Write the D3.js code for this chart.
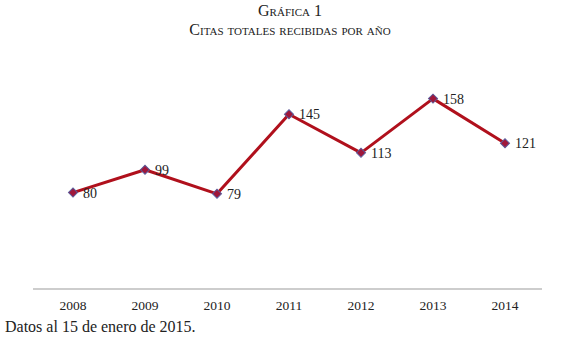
<!DOCTYPE html>
<html lang="es">
<head>
<meta charset="UTF-8">
<title>Gráfica 1</title>
<script src="https://d3js.org/d3.v7.min.js"></script>
<style>
  body { margin: 0; background: #fff; }
  text { font-family: "Liberation Serif", "DejaVu Serif", serif; fill: #222; }
  .title { font-variant: small-caps; font-size: 16px; }
  .tick text { font-size: 13.5px; }
  .lbl { font-size: 14px; }
  .note { font-size: 16px; }
</style>
</head>
<body>
<div id="chart"></div>
<script>
  const years = ["2008", "2009", "2010", "2011", "2012", "2013", "2014"];
  const citas = [80, 99, 79, 145, 113, 158, 121];

  const W = 580, H = 348;
  const svg = d3.select("#chart").append("svg")
      .attr("width", W).attr("height", H);

  // scales
  const x = d3.scaleBand().domain(years).range([37, 541]);
  const y = d3.scaleLinear().domain([0, 200]).range([289, 48]);

  // titles
  svg.append("text").attr("class", "title")
      .attr("x", 290).attr("y", 16).attr("text-anchor", "middle")
      .text("Gráfica 1");
  svg.append("text").attr("class", "title")
      .attr("x", 290).attr("y", 35).attr("text-anchor", "middle")
      .text("Citas totales recibidas por año");

  // x axis
  const xAxis = svg.append("g")
      .attr("transform", `translate(0,${y(0)})`)
      .call(d3.axisBottom(x).tickSize(0).tickPadding(11));
  xAxis.select(".domain").attr("stroke", "#bdbdbd").attr("stroke-width", 1.5)
      .attr("d", "M33,0H542");

  const data = years.map((yr, i) => ({ yr, v: citas[i] }));
  const cx = d => x(d.yr) + x.bandwidth() / 2;

  // line
  svg.append("path")
      .datum(data)
      .attr("fill", "none")
      .attr("stroke", "#b0101c")
      .attr("stroke-width", 3)
      .attr("stroke-linejoin", "round")
      .attr("d", d3.line().x(cx).y(d => y(d.v)));

  // markers
  svg.selectAll(".pt")
    .data(data)
    .join("path")
      .attr("class", "pt")
      .attr("transform", d => `translate(${cx(d)},${y(d.v)}) rotate(45)`)
      .attr("d", "M-3.2,-3.2H3.2V3.2H-3.2Z")
      .attr("fill", "#a0173a")
      .attr("stroke", "#5a5a9a")
      .attr("stroke-width", 1);

  // value labels
  svg.selectAll(".lbl")
    .data(data)
    .join("text")
      .attr("class", "lbl")
      .attr("x", d => cx(d) + 10)
      .attr("y", d => y(d.v) + 5)
      .text(d => d.v);

  // footnote
  svg.append("text").attr("class", "note")
      .attr("x", 5).attr("y", 332)
      .text("Datos al 15 de enero de 2015.");
</script>
</body>
</html>
